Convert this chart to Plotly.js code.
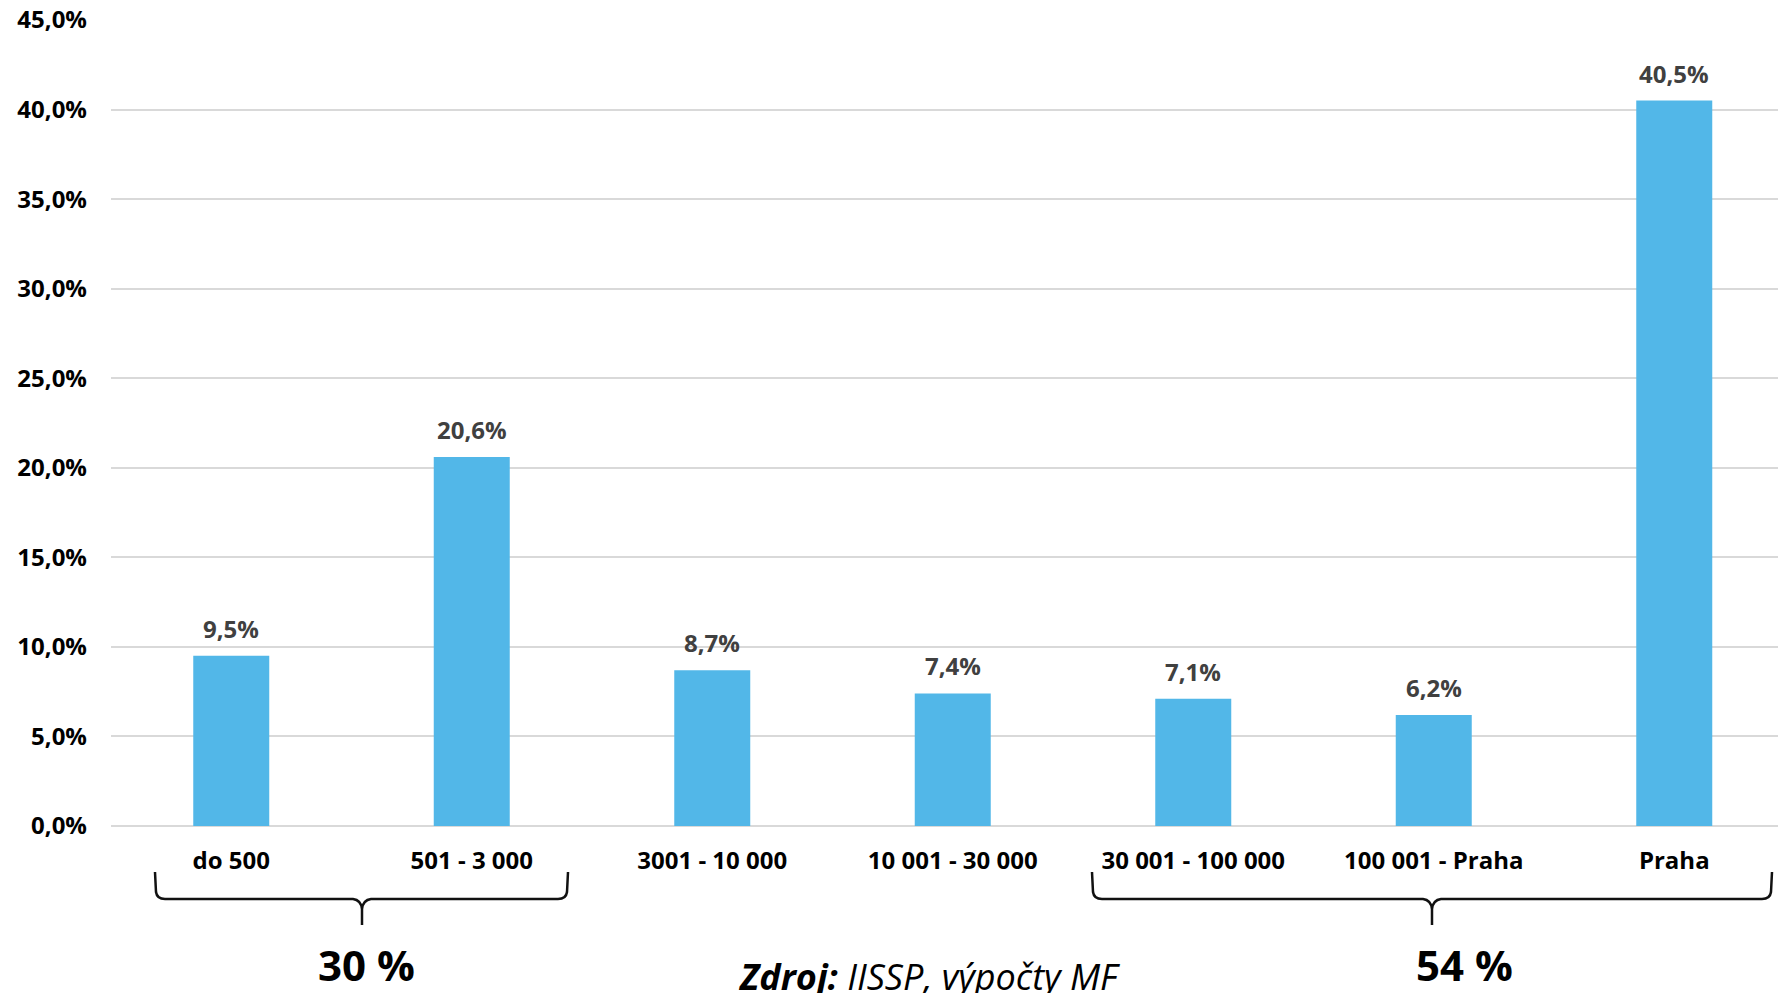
<!DOCTYPE html>
<html>
<head>
<meta charset="utf-8">
<script src="https://cdn.plot.ly/plotly-3.0.1.min.js"></script>
<style>
  html, body { margin: 0; padding: 0; background: #ffffff; }
  #chart { width: 1778px; height: 993px; }
</style>
</head>
<body>
<div id="chart"></div>
<script>
// ---- data ----
const categories = ['do 500', '501 - 3 000', '3001 - 10 000', '10 001 - 30 000', '30 001 - 100 000', '100 001 - Praha', 'Praha'];
const shares = [9.5, 20.6, 8.7, 7.4, 7.1, 6.2, 40.5];
const yTickValues = [0, 5, 10, 15, 20, 25, 30, 35, 40, 45];
const yTickLabels = ['0,0%', '5,0%', '10,0%', '15,0%', '20,0%', '25,0%', '30,0%', '35,0%', '40,0%', '45,0%'];
const groupLabels = ['30 %', '54 %'];
const sourceLabel = '<b>Zdroj:</b> IISSP, výpočty MF';

// ---- layout geometry (pixels) ----
const W = 1778, H = 993;
const ML = 111, MR = 0, MT = 20, MB = 167;
const PW = W - ML - MR, PH = H - MT - MB, PB = H - MB;
const FONT = '"Open Sans", "Segoe UI", "DejaVu Sans", sans-serif';

function px2x(px) { return (px - ML) / PW; }
function py2y(py) { return (PB - py) / PH; }
function pt(px, py) { return px2x(px).toFixed(5) + ' ' + py2y(py).toFixed(5); }

function bracePath(x0, x1, xt, yTop, yMid, yTip) {
  const r = 7;
  return 'M ' + pt(x0, yTop) +
    ' L ' + pt(x0 + 1, yMid - r) +
    ' Q ' + pt(x0 + 2, yMid) + ' ' + pt(x0 + r + 3, yMid) +
    ' L ' + pt(xt - 9, yMid) +
    ' Q ' + pt(xt - 1, yMid + 1) + ' ' + pt(xt, yMid + 10) +
    ' L ' + pt(xt, yTip) +
    ' M ' + pt(xt, yMid + 10) +
    ' Q ' + pt(xt + 1, yMid + 1) + ' ' + pt(xt + 9, yMid) +
    ' L ' + pt(x1 - r - 3, yMid) +
    ' Q ' + pt(x1 - 2, yMid) + ' ' + pt(x1 - 1, yMid - r) +
    ' L ' + pt(x1, yTop);
}

const shapes = [
  { type: 'path', xref: 'paper', yref: 'paper', path: bracePath(155, 568, 362, 872, 899, 925),
    line: { color: '#111111', width: 2.5 } },
  { type: 'path', xref: 'paper', yref: 'paper', path: bracePath(1092, 1772, 1432, 872, 899, 925),
    line: { color: '#111111', width: 2.5 } }
];

const annotations = [];
categories.forEach((c, i) => {
  annotations.push({
    x: c, y: shares[i], xref: 'x', yref: 'y',
    text: '<b>' + shares[i].toFixed(1).replace('.', ',') + '%</b>',
    showarrow: false, yanchor: 'bottom', yshift: 9,
    font: { family: FONT, size: 24, color: '#404040' }
  });
});
const groupPos = [[366, 964], [1464, 964]];
groupLabels.forEach((g, i) => {
  annotations.push({
    x: px2x(groupPos[i][0]), y: py2y(groupPos[i][1]), xref: 'paper', yref: 'paper',
    text: '<b>' + g + '</b>', showarrow: false, xanchor: 'center', yanchor: 'middle',
    font: { family: FONT, size: 42, color: '#000000' }
  });
});
annotations.push({
  x: px2x(929), y: py2y(976), xref: 'paper', yref: 'paper',
  text: '<i>' + sourceLabel + '</i>', showarrow: false, xanchor: 'center', yanchor: 'middle',
  font: { family: FONT, size: 36, color: '#000000' }
});

const trace = {
  type: 'bar',
  x: categories,
  y: shares,
  marker: { color: '#52B7E8', line: { width: 0 } },
  hoverinfo: 'skip'
};

const layout = {
  width: W, height: H,
  margin: { l: ML, r: MR, t: MT, b: MB, pad: 0 },
  paper_bgcolor: '#ffffff', plot_bgcolor: '#ffffff',
  separators: ', ',
  bargap: 0.684,
  showlegend: false,
  font: { family: FONT, color: '#000000' },
  xaxis: {
    type: 'category',
    range: [-0.5, -0.5 + PW / 240.5],
    showgrid: false, zeroline: false, showline: false, ticks: '',
    ticklabelstandoff: 18,
    tickfont: { family: FONT, size: 24, color: '#000000', weight: 'bold' },
    fixedrange: true
  },
  yaxis: {
    range: [0, 45],
    tickmode: 'array',
    tickvals: yTickValues,
    ticktext: yTickLabels,
    showgrid: true, gridcolor: '#d9d9d9', gridwidth: 2,
    zeroline: true, zerolinecolor: '#d9d9d9', zerolinewidth: 2,
    showline: false, ticks: '',
    ticklabelstandoff: 23,
    tickfont: { family: FONT, size: 24, color: '#000000', weight: 'bold' },
    fixedrange: true
  },
  shapes: shapes,
  annotations: annotations
};

Plotly.newPlot('chart', [trace], layout, { displayModeBar: false, staticPlot: true });
</script>
</body>
</html>
